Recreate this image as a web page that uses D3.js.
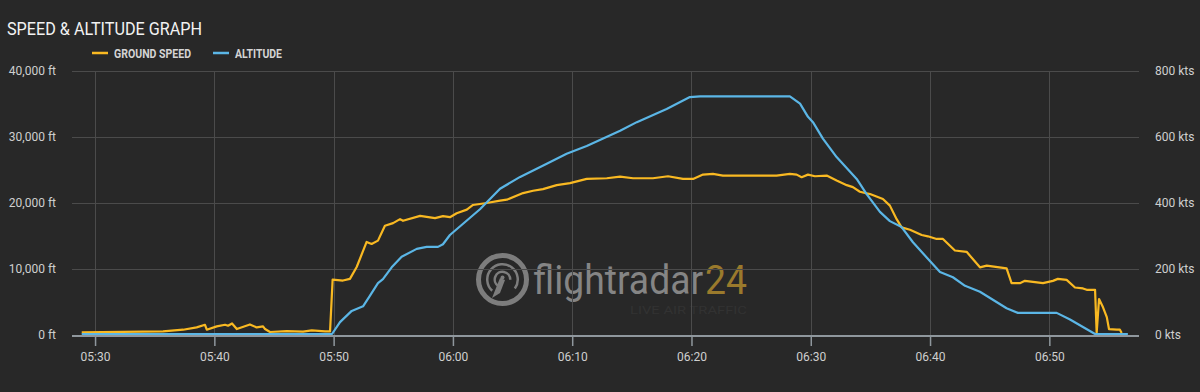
<!DOCTYPE html>
<html>
<head>
<meta charset="utf-8">
<script src="https://cdn.jsdelivr.net/npm/d3@7"></script>
<style>
  html, body { margin: 0; padding: 0; background: #282828; }
  svg { display: block; font-family: Roboto, "Open Sans", sans-serif; }
</style>
</head>
<body>
<script>
// ground speed (kts)
var speedTimes = ["05:28:53","05:35:42","05:37:23","05:38:31","05:39:13","05:39:22","05:40:12","05:40:54","05:41:09","05:41:29",
  "05:41:53","05:42:59","05:43:33","05:44:05","05:44:15","05:44:40","05:46:04","05:47:26","05:48:10","05:49:17",
  "05:49:42","05:49:55","05:50:47","05:51:22","05:51:56","05:52:46","05:53:11","05:53:43","05:54:18","05:54:59",
  "05:55:34","05:55:49","05:57:15","05:58:30","05:59:10","05:59:45","06:00:19","06:01:10","06:01:41","06:02:50",
  "06:03:57","06:04:31","06:05:53","06:06:43","06:07:33","06:08:42","06:09:49","06:11:13","06:12:54","06:14:01",
  "06:15:06","06:16:46","06:18:02","06:19:17","06:20:08","06:20:58","06:21:48","06:22:38","06:27:08","06:28:15",
  "06:28:49","06:29:14","06:29:46","06:30:21","06:31:20","06:32:10","06:33:01","06:33:32","06:34:07","06:34:58",
  "06:36:03","06:36:38","06:37:12","06:37:37","06:38:19","06:39:18","06:39:49","06:40:33","06:41:05","06:42:05",
  "06:43:04","06:44:11","06:44:45","06:46:25","06:46:50","06:47:32","06:47:57","06:49:28","06:50:18","06:50:43",
  "06:51:27","06:52:09","06:52:49","06:53:08","06:53:50","06:53:58","06:54:10","06:54:30","06:54:49","06:55:00",
  "06:55:39","06:55:55","06:56:04"];
var speedValues = [5,8,13,20,28,13,23,28,25,32,
  15,29,20,23,15,6,9,7,11,8,
  8,165,162,167,203,279,273,283,328,336,
  348,343,358,351,357,354,366,377,391,397,
  404,407,427,434,439,451,457,470,472,477,
  472,472,478,470,470,483,485,480,480,485,
  483,475,483,478,480,465,451,445,431,424,
  409,389,348,323,316,300,296,288,288,253,
  249,202,207,199,154,154,161,154,161,167,
  164,141,138,134,134,3,106,81,51,15,
  13,13,3];

// altitude (ft)
var altTimes = ["05:28:53","05:49:52","05:50:32","05:51:31","05:52:28","05:53:03","05:53:43","05:54:08","05:54:52","05:55:42",
  "05:56:58","05:57:48","05:58:45","05:59:10","05:59:45","06:00:51","06:02:16","06:03:57","06:05:38","06:07:52",
  "06:09:32","06:11:13","06:14:01","06:15:25","06:17:55","06:19:52","06:20:43","06:28:15","06:29:06","06:29:46",
  "06:30:11","06:31:01","06:32:10","06:33:51","06:34:41","06:35:48","06:36:38","06:37:37","06:38:34","06:39:49",
  "06:40:50","06:41:55","06:42:56","06:44:11","06:46:25","06:47:22","06:50:37","06:51:44","06:53:50","06:56:35"];
var altValues = [0,0,1800,3500,4200,5800,7700,8300,10100,11700,
  12900,13200,13200,13600,15000,16700,18900,22000,23800,25800,
  27300,28500,30800,32100,34100,35900,36000,36000,34900,32900,
  32100,29600,26800,23500,21200,18500,17100,16200,13900,11400,
  9400,8600,7300,6400,3900,3200,3200,2200,0,0];

var timeRange = ["05:28:04", "06:57:31"];
var altTicks = [0, 10000, 20000, 30000, 40000];
var speedTicks = [0, 200, 400, 600, 800];

var yellow = "#f9b922", blue = "#5bb6e6";

var width = 1200, height = 392;
var margin = {top: 71, right: 61, bottom: 57, left: 72};

var parse = d3.timeParse("%H:%M:%S");

var svg = d3.select("body").append("svg")
    .attr("width", width)
    .attr("height", height);

var x = d3.scaleTime()
    .domain(timeRange.map(parse))
    .range([margin.left, width - margin.right]);

var yAlt = d3.scaleLinear()
    .domain([0, 40000])
    .range([height - margin.bottom, margin.top]);

var ySpeed = d3.scaleLinear()
    .domain([0, 800])
    .range([height - margin.bottom, margin.top]);

// title + legend
svg.append("text")
    .attr("x", 7).attr("y", 35)
    .attr("fill", "#f2f2f2")
    .style("font-size", "18px")
    .attr("textLength", 195)
    .attr("lengthAdjust", "spacingAndGlyphs")
    .text("SPEED & ALTITUDE GRAPH");

var legend = [
  {name: "GROUND SPEED", color: yellow, x: 92, w: 77},
  {name: "ALTITUDE", color: blue, x: 213, w: 47}
];
legend.forEach(function(l) {
  svg.append("line")
      .attr("x1", l.x).attr("x2", l.x + 16)
      .attr("y1", 53).attr("y2", 53)
      .attr("stroke", l.color).attr("stroke-width", 2.5);
  svg.append("text")
      .attr("x", l.x + 22).attr("y", 57.5)
      .attr("fill", "#d4d4d4")
      .style("font-size", "12px").style("font-weight", "bold")
      .attr("textLength", l.w)
      .attr("lengthAdjust", "spacingAndGlyphs")
      .text(l.name);
});

// watermark
var wm = svg.append("g").attr("class", "watermark");
wm.append("circle").attr("cx", 502.5).attr("cy", 279.5).attr("r", 24)
    .attr("fill", "none").attr("stroke", "#7d7d7d").attr("stroke-width", 5);
var arc = d3.arc();
wm.append("path")
    .attr("transform", "translate(502.5,279.5)")
    .attr("d", arc({innerRadius: 14, outerRadius: 16.5, startAngle: -2.4, endAngle: 2.2}))
    .attr("fill", "#7d7d7d");
wm.append("path")
    .attr("transform", "translate(502.5,279.5)")
    .attr("d", arc({innerRadius: 6.5, outerRadius: 9, startAngle: -2.6, endAngle: 1.6}))
    .attr("fill", "#7d7d7d");
wm.append("path")
    .attr("d", "M500,278 L505,280 L500,293 L492,298 Z")
    .attr("fill", "#7d7d7d");
wm.append("circle").attr("cx", 502.5).attr("cy", 277.5).attr("r", 2).attr("fill", "#7d7d7d");

// brand text: laid out at natural width, then squeezed with a transform
var brand = wm.append("g");
var fr = brand.append("text")
    .attr("x", 0).attr("y", 0)
    .attr("fill", "#858585")
    .style("font-size", "40px")
    .text("flightradar");
var frW = fr.node().getComputedTextLength();
var t24 = brand.append("text")
    .attr("x", frW + 2).attr("y", 0)
    .attr("fill", "#9a7a2c")
    .style("font-size", "40px")
    .text("24");
var totalW = frW + 2 + t24.node().getComputedTextLength();
brand.attr("transform", "translate(533,294) scale(" + (214 / totalW) + ",1)");

wm.append("text")
    .attr("x", 630).attr("y", 314)
    .attr("fill", "#323232")
    .style("font-size", "11px")
    .attr("textLength", 117)
    .attr("lengthAdjust", "spacingAndGlyphs")
    .text("LIVE AIR TRAFFIC");

// grid
var xTicks = x.ticks(d3.timeMinute.every(10));

svg.append("g").selectAll("line.h")
    .data(altTicks.slice(1))
  .enter().append("line")
    .attr("x1", margin.left).attr("x2", width - margin.right)
    .attr("y1", function(d) { return Math.round(yAlt(d)) + 0.5; })
    .attr("y2", function(d) { return Math.round(yAlt(d)) + 0.5; })
    .attr("stroke", "#4b4b4b");

svg.append("g").selectAll("line.v")
    .data(xTicks)
  .enter().append("line")
    .attr("x1", function(d) { return Math.round(x(d)) + 0.5; })
    .attr("x2", function(d) { return Math.round(x(d)) + 0.5; })
    .attr("y1", margin.top).attr("y2", yAlt(0))
    .attr("stroke", "#4b4b4b");

// left axis
svg.append("g").selectAll("text")
    .data(altTicks)
  .enter().append("text")
    .attr("x", 56)
    .attr("y", function(d) { return yAlt(d) + 4; })
    .attr("text-anchor", "end")
    .attr("fill", "#cfcfcf")
    .style("font-size", "12px")
    .text(function(d) { return d3.format(",")(d) + " ft"; });

// right axis
svg.append("g").selectAll("text")
    .data(speedTicks)
  .enter().append("text")
    .attr("x", 1155)
    .attr("y", function(d) { return ySpeed(d) + 4; })
    .attr("fill", "#cfcfcf")
    .style("font-size", "12px")
    .text(function(d) { return d + " kts"; });

// lines
var speedData = speedTimes.map(function(t, i) { return {t: parse(t), v: speedValues[i]}; });
var altData = altTimes.map(function(t, i) { return {t: parse(t), v: altValues[i]}; });

svg.append("path")
    .datum(speedData)
    .attr("fill", "none")
    .attr("stroke", yellow)
    .attr("stroke-width", 2.2)
    .attr("stroke-linejoin", "round")
    .attr("d", d3.line().x(function(d) { return x(d.t); }).y(function(d) { return ySpeed(d.v) - 1; }));

svg.append("path")
    .datum(altData)
    .attr("fill", "none")
    .attr("stroke", blue)
    .attr("stroke-width", 2.2)
    .attr("stroke-linejoin", "round")
    .attr("d", d3.line().x(function(d) { return x(d.t); }).y(function(d) { return yAlt(d.v) - 1; }));

// bottom axis
var xAxis = d3.axisBottom(x)
    .ticks(d3.timeMinute.every(10))
    .tickFormat(d3.timeFormat("%H:%M"))
    .tickSize(10)
    .tickPadding(6);

var gx = svg.append("g")
    .attr("transform", "translate(0," + (yAlt(0) + 1) + ")")
    .call(xAxis);
gx.select(".domain").attr("stroke", "#8f979d").attr("stroke-width", 2).attr("d", "M" + margin.left + ",0H" + (width - margin.right));
gx.selectAll(".tick line").attr("stroke", "#8f979d").attr("stroke-width", 1.5);
gx.selectAll(".tick text")
    .attr("fill", "#cfcfcf")
    .style("font-size", "12px")
    .style("font-family", "Roboto, sans-serif");
</script>
</body>
</html>
